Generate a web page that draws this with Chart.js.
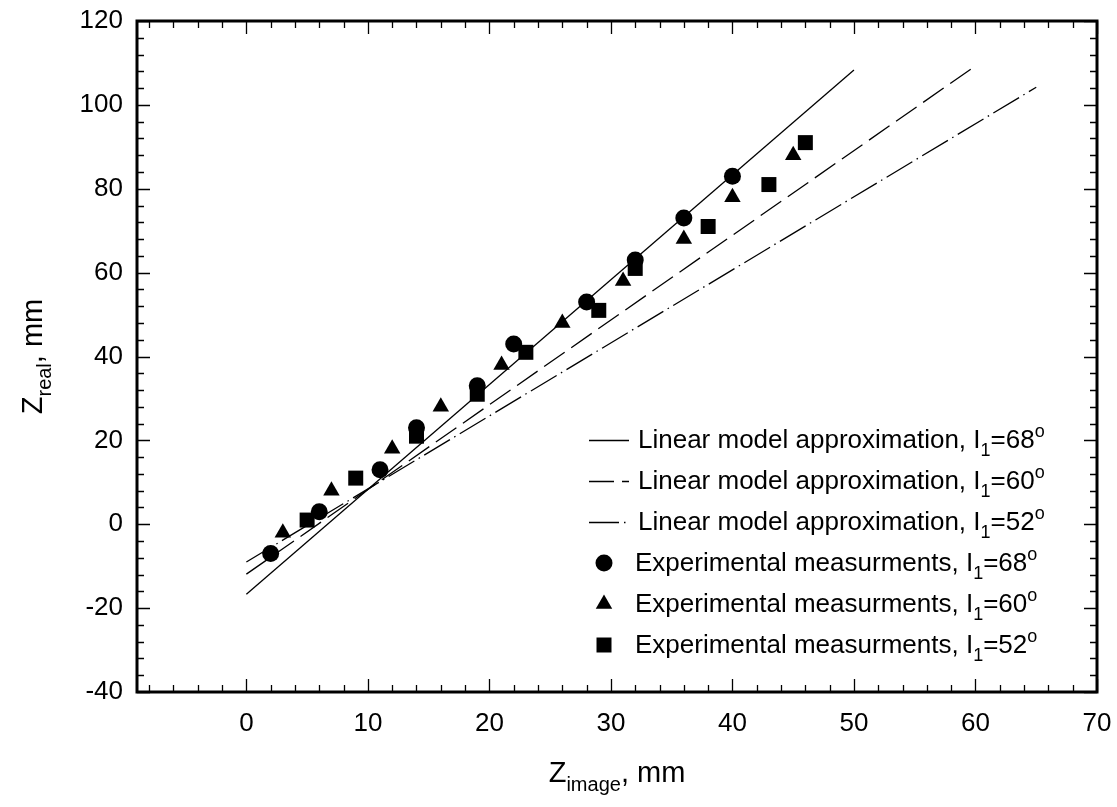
<!DOCTYPE html>
<html>
<head>
<meta charset="utf-8">
<script src="https://cdn.jsdelivr.net/npm/chart.js@4.4.0/dist/chart.umd.min.js"></script>
<style>
    html, body { margin: 0; padding: 0; background: #fff; }
    #wrap { width: 1117px; height: 807px; }
</style>
</head>
<body>
<div id="wrap"><canvas id="myChart" width="1117" height="807"></canvas></div>
<script>
// tick labels
const xTicks = [0, 10, 20, 30, 40, 50, 60, 70];
const yTicks = [-40, -20, 0, 20, 40, 60, 80, 100, 120];

// experimental measurments (I1 = 68, 60, 52 deg)
const exp68X = [2, 6, 11, 14, 19, 22, 28, 32, 36, 40];
const exp68Y = [-7, 3, 13, 23, 33, 43, 53, 63, 73, 83];
const exp60X = [3, 7, 12, 16, 21, 26, 31, 36, 40, 45];
const exp60Y = [-2, 8, 18, 28, 38, 48, 58, 68, 78, 88];
const exp52X = [5, 9, 14, 19, 23, 29, 32, 38, 43, 46];
const exp52Y = [1, 11, 21, 31, 41, 51, 61, 71, 81, 91];

// linear model approximation, end points of each line
const fit68X = [0, 50];
const fit68Y = [-16.7, 108.3];
const fit60X = [0, 60];
const fit60Y = [-11.9, 109.3];
const fit52X = [0, 65];
const fit52Y = [-9.0, 104.2];

const angles = ['68', '60', '52'];

const FONT = '"Liberation Sans", Arial, sans-serif';
const DASH60 = [25, 8];
const DASH52 = [30, 5, 1.5, 5];

function pts(xs, ys) {
    return xs.map((x, i) => ({ x: x, y: ys[i] }));
}

// text with subscript / superscript parts, drawn on the alphabetic baseline
function richText(ctx, parts, x, y, big, small) {
    let cx = x;
    parts.forEach(p => {
        const kind = p[1] || '';
        const size = kind ? small : big;
        ctx.font = size + 'px ' + FONT;
        let dy = 0;
        if (kind === 'sub') dy = big * 0.3;
        if (kind === 'sup') dy = -big * 0.42;
        ctx.fillText(p[0], cx, y + dy);
        cx += ctx.measureText(p[0]).width;
    });
    return cx - x;
}

function textWidth(ctx, parts, big, small) {
    let w = 0;
    parts.forEach(p => {
        ctx.font = (p[1] ? small : big) + 'px ' + FONT;
        w += ctx.measureText(p[0]).width;
    });
    return w;
}

const framePlugin = {
    id: 'frame',
    afterDraw(chart) {
        const ctx = chart.ctx;
        const a = chart.chartArea;
        const xs = chart.scales.x, ys = chart.scales.y;
        ctx.save();
        ctx.strokeStyle = '#000';
        ctx.fillStyle = '#000';

        // ticks, pointing inwards on all four sides
        ctx.lineWidth = 1.3;
        ctx.beginPath();
        for (let v = -8; v <= 70; v += 2) {
            const px = Math.round(xs.getPixelForValue(v)) + 0.5;
            const len = v % 10 === 0 ? 13 : 7;
            ctx.moveTo(px, a.bottom); ctx.lineTo(px, a.bottom - len);
            ctx.moveTo(px, a.top); ctx.lineTo(px, a.top + len);
        }
        for (let v = -40; v <= 120; v += 4) {
            const py = Math.round(ys.getPixelForValue(v)) + 0.5;
            const len = v % 20 === 0 ? 13 : 7;
            ctx.moveTo(a.left, py); ctx.lineTo(a.left + len, py);
            ctx.moveTo(a.right, py); ctx.lineTo(a.right - len, py);
        }
        ctx.stroke();

        // frame
        ctx.lineWidth = 3;
        ctx.strokeRect(a.left, a.top, a.right - a.left, a.bottom - a.top);

        // axis titles
        ctx.textBaseline = 'alphabetic';
        const xt = [['Z'], ['image', 'sub'], [', mm']];
        const wx = textWidth(ctx, xt, 29, 20);
        richText(ctx, xt, (a.left + a.right) / 2 - wx / 2, 782, 29, 20);

        const yt = [['Z'], ['real', 'sub'], [', mm']];
        const wy = textWidth(ctx, yt, 29, 20);
        ctx.save();
        ctx.translate(42, (a.top + a.bottom) / 2);
        ctx.rotate(-Math.PI / 2);
        richText(ctx, yt, -wy / 2, 0, 29, 20);
        ctx.restore();

        // legend
        const rows = [440, 481, 522, 563, 604, 645];
        const dashes = [[], DASH60, DASH52];
        ctx.lineWidth = 1.3;
        for (let i = 0; i < 3; i++) {
            ctx.setLineDash(dashes[i]);
            ctx.beginPath();
            ctx.moveTo(589, rows[i] + 0.5);
            ctx.lineTo(629, rows[i] + 0.5);
            ctx.stroke();
            ctx.setLineDash([]);
            richText(ctx, [['Linear model approximation, I'], ['1', 'sub'], ['=' + angles[i]], ['o', 'sup']],
                638, rows[i] + 8, 26, 18);
        }
        const marks = [['circle', 8.5], ['triangle', 9.5], ['rect', 10.6]];
        for (let i = 0; i < 3; i++) {
            Chart.helpers.drawPoint(ctx, { pointStyle: marks[i][0], radius: marks[i][1], rotation: 0, borderWidth: 0 },
                604, rows[i + 3]);
            richText(ctx, [['Experimental measurments, I'], ['1', 'sub'], ['=' + angles[i]], ['o', 'sup']],
                635, rows[i + 3] + 8, 26, 18);
        }
        ctx.restore();
    }
};

const lineStyle = { showLine: true, pointRadius: 0, borderColor: '#000', borderWidth: 1.3, backgroundColor: '#000' };
const markStyle = { showLine: false, backgroundColor: '#000', borderWidth: 0 };

const ctx = document.getElementById('myChart');

new Chart(ctx, {
    type: 'scatter',
    data: {
        datasets: [
            Object.assign({ label: 'Linear model approximation, I1=68', data: pts(fit68X, fit68Y) }, lineStyle),
            Object.assign({ label: 'Linear model approximation, I1=60', data: pts(fit60X, fit60Y), borderDash: DASH60 }, lineStyle),
            Object.assign({ label: 'Linear model approximation, I1=52', data: pts(fit52X, fit52Y), borderDash: DASH52 }, lineStyle),
            Object.assign({ label: 'Experimental measurments, I1=68', data: pts(exp68X, exp68Y), pointStyle: 'circle', pointRadius: 8.5 }, markStyle),
            Object.assign({ label: 'Experimental measurments, I1=60', data: pts(exp60X, exp60Y), pointStyle: 'triangle', pointRadius: 9.5 }, markStyle),
            Object.assign({ label: 'Experimental measurments, I1=52', data: pts(exp52X, exp52Y), pointStyle: 'rect', pointRadius: 10.6 }, markStyle)
        ]
    },
    options: {
        responsive: false,
        animation: false,
        events: [],
        layout: { padding: { left: 0, right: 20, top: 21, bottom: 0 } },
        plugins: { legend: { display: false }, tooltip: { enabled: false } },
        scales: {
            x: {
                type: 'linear',
                min: -9,
                max: 70,
                afterBuildTicks: s => { s.ticks = xTicks.map(v => ({ value: v })); },
                afterFit: s => { s.height = 115; s.paddingLeft = 0; s.paddingRight = 0; },
                grid: { display: false, drawTicks: false },
                border: { display: false },
                ticks: { color: '#000', padding: 16, maxRotation: 0, autoSkip: false, font: { family: FONT, size: 26 } }
            },
            y: {
                type: 'linear',
                min: -40,
                max: 120,
                afterBuildTicks: s => { s.ticks = yTicks.map(v => ({ value: v })); },
                afterFit: s => { s.width = 137; s.paddingTop = 0; s.paddingBottom = 0; },
                grid: { display: false, drawTicks: false },
                border: { display: false },
                ticks: { color: '#000', padding: 14, autoSkip: false, font: { family: FONT, size: 26 } }
            }
        }
    },
    plugins: [framePlugin]
});
</script>
</body>
</html>
